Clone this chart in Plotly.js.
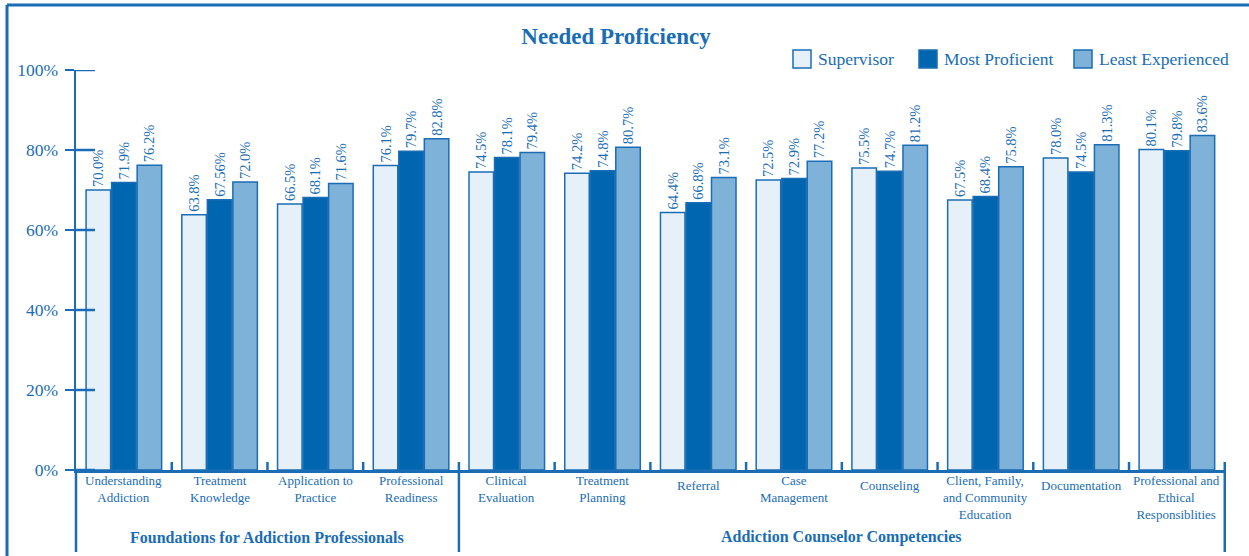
<!DOCTYPE html>
<html>
<head>
<meta charset="utf-8">
<script src="https://cdn.plot.ly/plotly-3.0.1.min.js"></script>
<style>
  html, body { margin: 0; padding: 0; background: #ffffff; }
  #chart { width: 1249px; height: 556px; }
</style>
</head>
<body>
<div id="chart"></div>
<script>
// ---------------- data ----------------
var categories = [
  "Understanding<br>Addiction",
  "Treatment<br>Knowledge",
  "Application to<br>Practice",
  "Professional<br>Readiness",
  "Clinical<br>Evaluation",
  "Treatment<br>Planning",
  "Referral",
  "Case<br>Management",
  "Counseling",
  "Client, Family,<br>and Community<br>Education",
  "Documentation",
  "Professional and<br>Ethical<br>Responsiblities"
];
var seriesNames = ["Supervisor", "Most Proficient", "Least Experienced"];
var supervisor      = [70.0, 63.8, 66.5, 76.1, 74.5, 74.2, 64.4, 72.5, 75.5, 67.5, 78.0, 80.1];
var mostProficient  = [71.9, 67.56, 68.1, 79.7, 78.1, 74.8, 66.8, 72.9, 74.7, 68.4, 74.5, 79.8];
var leastExperienced= [76.2, 72.0, 71.6, 82.8, 79.4, 80.7, 73.1, 77.2, 81.2, 75.8, 81.3, 83.6];
var groupNames = ["Foundations for Addiction Professionals", "Addiction Counselor Competencies"];
var groupSizes = [4, 8];
var yTickVals = [0, 20, 40, 60, 80, 100];
var yTickText = ["0%", "20%", "40%", "60%", "80%", "100%"];

// ---------------- style ----------------
var BLUE = "#1a6db4";
var fills = ["#e6f0f8", "#0066b0", "#7fb2d9"];
var FONT = "Liberation Serif, Times New Roman, serif";

var W = 1249, H = 556;
var M = {l: 76, r: 23, t: 70, b: 86};
var PW = W - M.l - M.r, PH = H - M.t - M.b;
function px(x) { return (x - M.l) / PW; }
function py(y) { return (H - M.b - y) / PH; }

function fmt(v) { return (v % 1 === 0 ? v.toFixed(1) : String(v)) + "%"; }

var seriesData = [supervisor, mostProficient, leastExperienced];
var traces = seriesData.map(function (vals, i) {
  return {
    type: "bar",
    name: seriesNames[i],
    x: categories,
    y: vals,
    text: vals.map(fmt),
    textposition: "outside",
    textangle: -90,
    constraintext: "none",
    cliponaxis: false,
    textfont: {family: FONT, size: 14.5, color: BLUE},
    marker: {color: fills[i], line: {color: BLUE, width: 1.5}},
    hoverinfo: "x+y",
    showlegend: false
  };
});

var shapes = [];
var annotations = [];

// outer frame (top and left)
shapes.push({type: "line", xref: "paper", yref: "paper", x0: px(7), x1: px(W + 5), y0: py(5), y1: py(5), line: {color: BLUE, width: 3}});
shapes.push({type: "line", xref: "paper", yref: "paper", x0: px(7), x1: px(7), y0: py(5), y1: py(H + 5), line: {color: BLUE, width: 3}});

// y axis extension downward
shapes.push({type: "line", xref: "paper", yref: "paper", x0: 0, x1: 0, y0: 0, y1: py(552), line: {color: BLUE, width: 2.5}});

// inner halves of the y ticks
yTickVals.forEach(function (v) {
  shapes.push({type: "line", xref: "paper", yref: "y", x0: 0, x1: px(95), y0: v, y1: v, line: {color: BLUE, width: 2.5}});
});

// category separators
var boundaries = [];
var idx = 0;
groupSizes.forEach(function (n) { idx += n; boundaries.push(idx - 0.5); });
for (var i = 0; i < categories.length; i++) {
  var b = i + 0.5;
  var isGroupEnd = boundaries.indexOf(b) >= 0;
  shapes.push({
    type: "line", xref: "x", yref: "paper",
    x0: b, x1: b, y0: isGroupEnd ? py(552) : 0, y1: py(462),
    line: {color: BLUE, width: 2.5}
  });
}

// category labels
categories.forEach(function (c, i) {
  var lines = c.split("<br>").length;
  annotations.push({
    xref: "x", yref: "y", x: i, y: 0, yanchor: "top", xanchor: "center",
    yshift: lines === 1 ? -6 : -1,
    text: c, showarrow: false, align: "center",
    font: {family: FONT, size: 13, color: BLUE}
  });
});

// group labels
var start = 0;
groupSizes.forEach(function (n, g) {
  var x0 = (start - 0.5), x1 = (start + n - 0.5);
  annotations.push({
    xref: "x", yref: "paper", x: (x0 + x1) / 2, y: py(537), yanchor: "middle", xanchor: "center",
    text: "<b>" + groupNames[g] + "</b>", showarrow: false,
    font: {family: FONT, size: 16, color: BLUE}
  });
  start += n;
});

// custom legend
var legendSwatchX = [793, 919, 1074];
var legendY0 = 50, legendY1 = 68;
seriesNames.forEach(function (name, i) {
  var sx = legendSwatchX[i];
  shapes.push({
    type: "rect", xref: "paper", yref: "paper",
    x0: px(sx), x1: px(sx + 18), y0: py(legendY1), y1: py(legendY0),
    fillcolor: fills[i], line: {color: BLUE, width: 1.5}
  });
  annotations.push({
    xref: "paper", yref: "paper", x: px(sx + 23), y: py(59), xanchor: "left", yanchor: "middle",
    text: name, showarrow: false,
    font: {family: FONT, size: 17.5, color: BLUE}
  });
});

var layout = {
  width: W, height: H,
  margin: M,
  paper_bgcolor: "#ffffff",
  plot_bgcolor: "#ffffff",
  title: {
    text: "<b>Needed Proficiency</b>",
    x: 616 / W, xanchor: "center", xref: "container",
    y: 1 - 36 / H, yanchor: "middle", yref: "container",
    font: {family: FONT, size: 23, color: BLUE}
  },
  barmode: "group",
  bargap: 0.2,
  bargroupgap: 0.04,
  showlegend: false,
  xaxis: {
    type: "category",
    showticklabels: false,
    ticks: "",
    showgrid: false,
    zeroline: false,
    showline: true,
    linecolor: BLUE,
    linewidth: 3,
    fixedrange: true
  },
  yaxis: {
    range: [0, 100],
    tickmode: "array",
    tickvals: yTickVals,
    ticktext: yTickText,
    ticks: "outside",
    ticklen: 9,
    tickwidth: 2.5,
    tickcolor: BLUE,
    ticklabelstandoff: 3,
    tickfont: {family: FONT, size: 17.5, color: BLUE},
    showgrid: false,
    zeroline: false,
    showline: true,
    linecolor: BLUE,
    linewidth: 2.5,
    fixedrange: true
  },
  shapes: shapes,
  annotations: annotations
};

Plotly.newPlot("chart", traces, layout, {displayModeBar: false, staticPlot: true});
</script>
</body>
</html>
